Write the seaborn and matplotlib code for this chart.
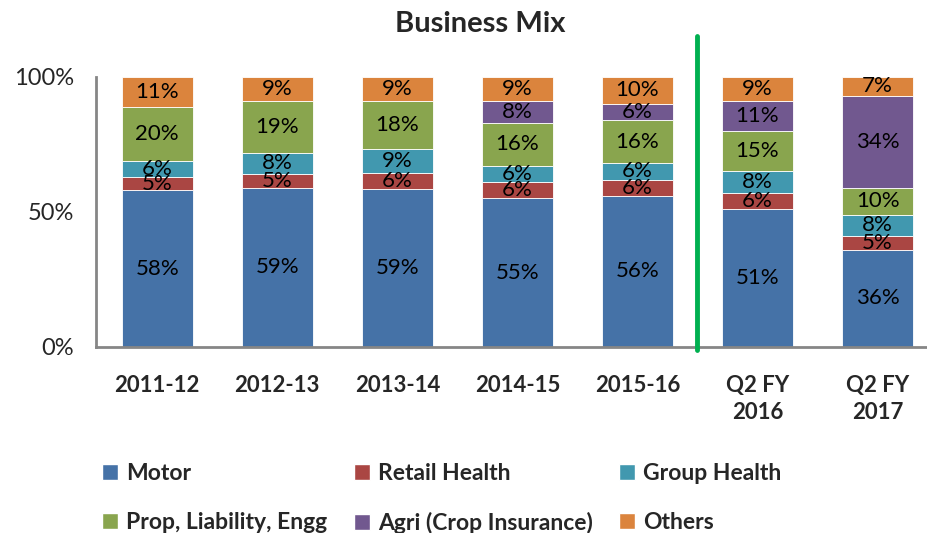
import numpy as np
import pandas as pd
import seaborn as sns
import matplotlib.pyplot as plt
from matplotlib.patches import Patch

# data (percent share of business)
years = ['2011-12', '2012-13', '2013-14', '2014-15', '2015-16', 'Q2 FY\n2016', 'Q2 FY\n2017']
motor = [58, 59, 59, 55, 56, 51, 36]
retail_health = [5, 5, 6, 6, 6, 6, 5]
group_health = [6, 8, 9, 6, 6, 8, 8]
prop_liab_engg = [20, 19, 18, 16, 16, 15, 10]
agri = [0, 0, 0, 8, 6, 11, 34]
others = [11, 9, 9, 9, 10, 9, 7]

series_names = ['Motor', 'Retail Health', 'Group Health', 'Prop, Liability, Engg',
                'Agri (Crop Insurance)', 'Others']
series_vals = [motor, retail_health, group_health, prop_liab_engg, agri, others]
colors = ['#4572A7', '#AA4643', '#4198AF', '#89A54E', '#71588F', '#DB843D']

sns.set_style('white')
plt.rcParams['font.family'] = ['Lato', 'DejaVu Sans']

fig = plt.figure(figsize=(9.28, 5.33), dpi=100)
ax = fig.add_axes([0.1034, 0.349, 0.8966, 0.5066])

totals = np.sum(series_vals, axis=0)
bottom = np.zeros(len(years))
for name, vals, col in zip(series_names, series_vals, colors):
    share = np.array(vals) / totals
    df = pd.DataFrame({'year': years, 'share': share})
    sns.barplot(data=df, x='year', y='share', order=years, color=col, width=0.59,
                bottom=bottom, ax=ax, saturation=1, edgecolor='white', linewidth=0.6)
    cont = ax.containers[-1]
    labels = [f'{v}%' if v > 0 else '' for v in vals]
    ax.bar_label(cont, labels=labels, label_type='center', fontsize=16, color='black')
    bottom = bottom + share

ax.set_xlim(-0.51, 6.42)
ax.set_ylim(0, 1)
ax.set_yticks([0, 0.5, 1.0])
ax.set_yticklabels(['0%', '50%', '100%'], fontsize=17)
ax.set_xlabel('')
ax.set_ylabel('')
ax.set_xticks(range(len(years)))
ax.set_xticklabels(years, fontsize=16, fontweight='bold', linespacing=1.35)
ax.tick_params(axis='x', length=0, pad=20)
ax.tick_params(axis='y', length=6, width=1.5, color='#868686', direction='out', pad=10)
ax.set_xticks(np.arange(-0.5, 6.5, 1), minor=True)
ax.tick_params(axis='x', which='minor', length=6, width=1.5, color='#868686', direction='out')
sns.despine(ax=ax, top=True, right=True)
for s in ['left', 'bottom']:
    ax.spines[s].set_color('#868686')
    ax.spines[s].set_linewidth(2)

# green divider between annual and quarterly figures
ax.plot([4.5, 4.5], [-0.01, 1.15], color='#00B050', linewidth=3.5, clip_on=False, zorder=5)

fig.text(0.518, 0.955, 'Business Mix', ha='center', va='center', fontsize=21, fontweight='bold')

# legend, filled column-wise
order = [0, 3, 1, 4, 2, 5]
handles = [Patch(facecolor=colors[i], label=series_names[i]) for i in order]
fig.legend(handles=handles, ncol=3, loc='lower left', bbox_to_anchor=(0.088, -0.04),
           frameon=False, handlelength=0.7, handleheight=0.7, handletextpad=0.35,
           columnspacing=1.15, labelspacing=1.2, prop={'weight': 'bold', 'size': 16.5})

fig.savefig('out.png', dpi=100)
